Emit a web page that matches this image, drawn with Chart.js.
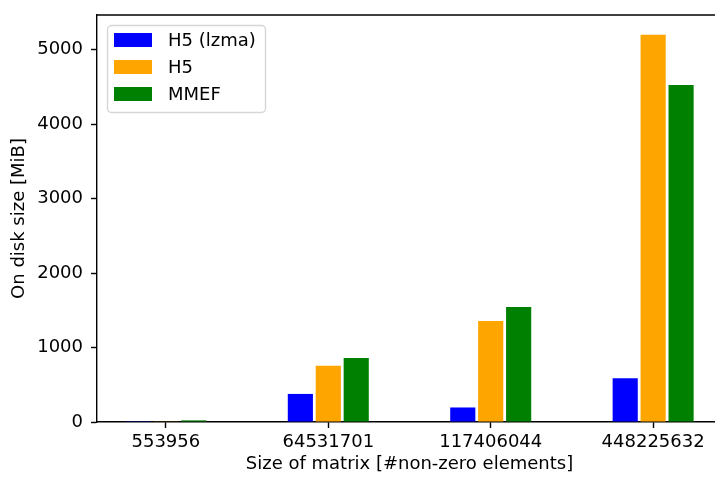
<!DOCTYPE html>
<html lang="en">
  <head>
    <meta charset="UTF-8" />
    <title>On disk size</title>
    <script src="https://cdn.jsdelivr.net/npm/chart.js"></script>
    <style>
      html, body { margin: 0; padding: 0; background: #fff; overflow: hidden; }
      #wrap { width: 725px; height: 480px; }
    </style>
  </head>
  <body>
    <div id="wrap"><canvas id="size-chart" width="725" height="480"></canvas></div>

    <script>
      // categories (x axis) and values in MiB
      const categories = ["553956", "64531701", "117406044", "448225632"];
      const h5Lzma = [3, 377, 195, 586];
      const h5 = [5, 755, 1355, 5200];
      const mmef = [22, 860, 1545, 4525];
      const yTicks = [0, 1000, 2000, 3000, 4000, 5000];

      const FONT = "'DejaVu Sans', sans-serif";
      const toPoints = (arr) => arr.map((v, i) => ({ x: i, y: v }));

      // legend drawn inside the plot, matplotlib style
      const boxLegend = {
        id: "boxLegend",
        afterDraw(chart) {
          const { ctx, chartArea } = chart;
          const x0 = chartArea.left + 10;
          const y0 = chartArea.top + 10;
          ctx.save();
          ctx.beginPath();
          ctx.roundRect(x0 + 0.5, y0 + 0.5, 158, 87, 4);
          ctx.fillStyle = "rgba(255,255,255,0.8)";
          ctx.fill();
          ctx.lineWidth = 1.4;
          ctx.strokeStyle = "#d6d6d6";
          ctx.stroke();
          ctx.font = "18px " + FONT;
          ctx.textBaseline = "middle";
          chart.data.datasets.forEach((ds, i) => {
            const cy = y0 + 15 + i * 27;
            ctx.fillStyle = ds.backgroundColor;
            ctx.fillRect(x0 + 7, cy - 7, 38, 14);
            ctx.fillStyle = "#000";
            ctx.fillText(ds.label, x0 + 61, cy + 1);
          });
          // top spine
          ctx.beginPath();
          ctx.strokeStyle = "#000";
          ctx.lineWidth = 1.4;
          ctx.moveTo(chartArea.left, chartArea.top);
          ctx.lineTo(chartArea.right, chartArea.top);
          ctx.stroke();
          ctx.restore();
        },
      };

      new Chart(document.getElementById("size-chart"), {
        type: "bar",
        data: {
          datasets: [
            { label: "H5 (lzma)", data: toPoints(h5Lzma), backgroundColor: "#0000ff" },
            { label: "H5", data: toPoints(h5), backgroundColor: "#ffa500" },
            { label: "MMEF", data: toPoints(mmef), backgroundColor: "#008000" },
          ],
        },
        options: {
          responsive: false,
          animation: false,
          events: [],
          categoryPercentage: 0.516,
          barPercentage: 0.9,
          layout: { padding: { top: 15, right: 3, left: 0, bottom: 0 } },
          plugins: { legend: { display: false }, tooltip: { enabled: false } },
          scales: {
            x: {
              type: "linear",
              offset: false,
              min: -0.424,
              max: 3.424,
              afterBuildTicks: (s) => { s.ticks = categories.map((c, i) => ({ value: i })); },
              afterFit: (s) => { s.height = 58; s.paddingLeft = 0; s.paddingRight = 0; },
              ticks: {
                callback: (v) => categories[v],
                color: "#000",
                font: { family: FONT, size: 18 },
                padding: 4,
                maxRotation: 0,
              },
              grid: { offset: false, drawOnChartArea: false, tickLength: 6, tickWidth: 1.4, tickColor: "#000" },
              border: { color: "#000", width: 1.4 },
              title: {
                display: true,
                text: "Size of matrix [#non-zero elements]",
                color: "#000",
                font: { family: FONT, size: 18 },
                padding: { top: 0, bottom: 5 },
              },
            },
            y: {
              min: 0,
              max: 5465,
              afterBuildTicks: (s) => { s.ticks = yTicks.map((v) => ({ value: v })); },
              afterFit: (s) => { s.width = 97; s.paddingTop = 0; s.paddingBottom = 0; },
              ticks: {
                callback: (v) => String(v),
                color: "#000",
                font: { family: FONT, size: 18 },
                padding: 8,
              },
              grid: { drawOnChartArea: false, tickLength: 6, tickWidth: 1.4, tickColor: "#000" },
              border: { color: "#000", width: 1.4 },
              title: {
                display: true,
                text: "On disk size [MiB]",
                color: "#000",
                font: { family: FONT, size: 18 },
                padding: { top: 9, bottom: 0 },
              },
            },
          },
        },
        plugins: [boxLegend],
      });
    </script>
  </body>
</html>
